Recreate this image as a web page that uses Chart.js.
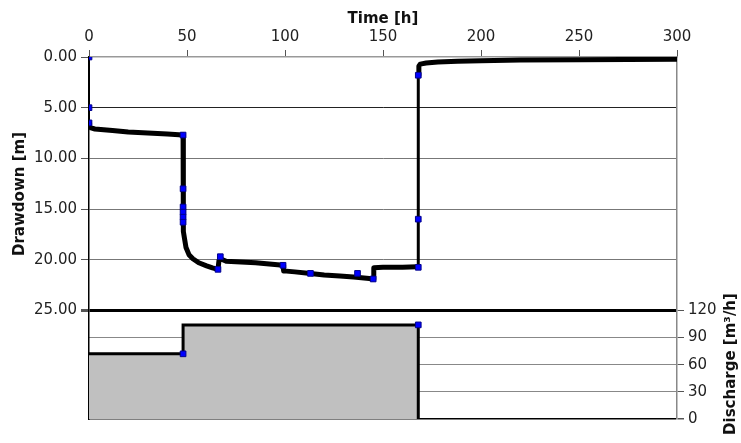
<!DOCTYPE html>
<html>
<head>
<meta charset="utf-8">
<script src="https://cdn.jsdelivr.net/npm/chart.js@4.4.1/dist/chart.umd.min.js"></script>
<style>
  body { margin: 0; background: #fff; }
  canvas { display: block; }
</style>
</head>
<body>
<canvas id="grafico" width="741" height="443"></canvas>
<script>
// ==============================
// DATOS
// ==============================

// descenso [m] vs tiempo [h]
const drawdownTime = [0, 0, 0, 0.3, 1, 3, 6, 12, 20, 30, 40, 47.8,
  48, 48, 48, 48.1, 48.2, 48.4, 48.8, 49.5, 51, 53, 56, 60, 63, 65.8,
  66.3, 67, 70, 75, 85, 99, 99.3, 105, 113, 120, 128, 135, 143, 145,
  145.3, 150, 160, 167.5, 168, 168, 168, 168.3, 169, 172, 178, 188,
  200, 220, 250, 300];
const drawdownValue = [0, 5, 6.5, 6.9, 7.0, 7.1, 7.15, 7.25, 7.4, 7.5, 7.6, 7.7,
  7.7, 13, 14.8, 15.5, 16.3, 17.2, 18.0, 18.8, 19.5, 19.9, 20.3, 20.6, 20.8, 20.95,
  20.1, 19.9, 20.15, 20.2, 20.3, 20.55, 21.1, 21.2, 21.35, 21.5, 21.6, 21.7, 21.85, 21.9,
  20.8, 20.75, 20.75, 20.7, 20.7, 16, 1.8, 0.9, 0.7, 0.6, 0.5, 0.42,
  0.36, 0.3, 0.26, 0.23];

// puntos marcados (azules)
const markerTime = [0, 0, 0, 48, 48, 48, 48, 48, 48, 65.8, 67, 99, 113, 137, 145, 168, 168, 168];
const markerValue = [0, 5, 6.5, 7.7, 13, 14.8, 15.3, 15.8, 16.3, 20.95, 19.7, 20.55, 21.35, 21.35, 21.9, 20.75, 16, 1.8];

// caudal [m³/h]
const dischargeTime = [0, 48, 48, 168, 168];
const dischargeValue = [72, 72, 104, 104, 0];
const dischargeMarkTime = [48, 168];
const dischargeMarkValue = [72, 104];

// ticks
const timeTicks = [0, 50, 100, 150, 200, 250, 300];
const drawdownTicks = [0, 5, 10, 15, 20, 25];
const dischargeTicks = [0, 30, 60, 90, 120];

// fracción del alto para el panel de descenso
const split = 0.7;
const drawdownMax = 25;
const dischargeMax = 120;

const FONT = "'DejaVu Sans', Verdana, sans-serif";

function puntos(xs, ys) {
    return xs.map((x, i) => ({ x: x, y: ys[i] }));
}

// ==============================
// TÍTULOS DE EJES
// ==============================
const titulos = {
    id: 'titulos',
    afterDraw(chart) {
        const ctx = chart.ctx;
        const area = chart.chartArea;
        ctx.save();
        ctx.fillStyle = '#111';
        ctx.font = 'bold 15px ' + FONT;
        ctx.textAlign = 'center';
        ctx.textBaseline = 'middle';
        ctx.fillText('Time [h]', (area.left + area.right) / 2, 19);

        ctx.translate(20, 194);
        ctx.rotate(-Math.PI / 2);
        ctx.fillText('Drawdown [m]', 0, 0);
        ctx.restore();

        ctx.save();
        ctx.fillStyle = '#111';
        ctx.font = 'bold 15px ' + FONT;
        ctx.textAlign = 'center';
        ctx.textBaseline = 'middle';
        ctx.translate(731, 364);
        ctx.rotate(-Math.PI / 2);
        ctx.fillText('Discharge [m³/h]', 0, 0);
        ctx.restore();
    }
};

// ==============================
// GRÁFICO
// ==============================
const ctx = document.getElementById('grafico').getContext('2d');

const marcas = {
    showLine: false,
    pointStyle: 'rect',
    pointRadius: 4,
    backgroundColor: '#0000ff',
    borderColor: '#00008b',
    borderWidth: 1,
    order: 0
};

// tramos verticales más finos (inicio y recuperación)
function anchoTramo(s) {
    if (s.p0.parsed.x === s.p1.parsed.x) {
        if (s.p0.parsed.x === 0) return 2;
        if (s.p0.parsed.x === 168) return 3;
    }
    return 5;
}

new Chart(ctx, {
    type: 'line',
    data: {
        datasets: [{
            label: 'Drawdown',
            data: puntos(drawdownTime, drawdownValue),
            yAxisID: 'y',
            borderColor: '#000',
            borderWidth: 5,
            borderJoinStyle: 'round',
            segment: { borderWidth: anchoTramo },
            pointRadius: 0,
            tension: 0,
            order: 2
        }, Object.assign({
            label: 'Marcas',
            data: puntos(markerTime, markerValue),
            yAxisID: 'y'
        }, marcas), {
            label: 'Discharge',
            data: puntos(dischargeTime, dischargeValue),
            yAxisID: 'q',
            borderColor: '#000',
            borderWidth: 3,
            pointRadius: 0,
            fill: 'origin',
            backgroundColor: '#c0c0c0',
            tension: 0,
            order: 3
        }, Object.assign({
            label: 'Marcas Q',
            data: puntos(dischargeMarkTime, dischargeMarkValue),
            yAxisID: 'q'
        }, marcas)]
    },
    options: {
        responsive: false,
        animation: false,
        layout: { padding: { bottom: 24 } },
        plugins: {
            legend: { display: false },
            tooltip: { enabled: false }
        },
        scales: {
            x: {
                type: 'linear',
                position: 'top',
                min: 0,
                max: 300,
                afterBuildTicks: s => { s.ticks = timeTicks.map(v => ({ value: v })); },
                afterFit: s => { s.height = 57; },
                ticks: { color: '#222', font: { family: FONT, size: 15 }, padding: 4, maxRotation: 0 },
                grid: { drawOnChartArea: false, tickLength: 7, tickColor: '#555' },
                border: { color: '#999', width: 1.5 }
            },
            y: {
                type: 'linear',
                position: 'left',
                reverse: true,
                min: 0,
                max: drawdownMax / split,
                afterBuildTicks: s => { s.ticks = drawdownTicks.map(v => ({ value: v })); },
                afterFit: s => { s.width = 89; },
                ticks: {
                    color: '#222',
                    font: { family: FONT, size: 15 },
                    padding: 4,
                    callback: v => v.toFixed(2)
                },
                grid: {
                    tickLength: 8,
                    tickColor: '#555',
                    color: c => {
                        const v = c.tick ? c.tick.value : null;
                        if (v === 25) return '#000';
                        if (v === 5) return '#222';
                        if (v === 0) return 'rgba(0,0,0,0)';
                        return '#777';
                    },
                    lineWidth: c => (c.tick && c.tick.value === 25) ? 3 : 1
                },
                border: { color: '#000', width: 1.5 }
            },
            q: {
                type: 'linear',
                position: 'right',
                min: 0,
                max: dischargeMax / (1 - split),
                afterBuildTicks: s => { s.ticks = dischargeTicks.map(v => ({ value: v })); },
                afterFit: s => { s.width = 64; },
                ticks: { color: '#222', font: { family: FONT, size: 15 }, padding: 4 },
                grid: {
                    tickLength: 7,
                    tickColor: '#555',
                    color: c => {
                        const v = c.tick ? c.tick.value : null;
                        if (v === 0) return '#000';
                        if (v === 120) return 'rgba(0,0,0,0)';
                        return '#888';
                    },
                    lineWidth: c => (c.tick && c.tick.value === 0) ? 1.5 : 1
                },
                border: { color: '#888', width: 1.5 }
            }
        }
    },
    plugins: [titulos]
});
</script>
</body>
</html>
